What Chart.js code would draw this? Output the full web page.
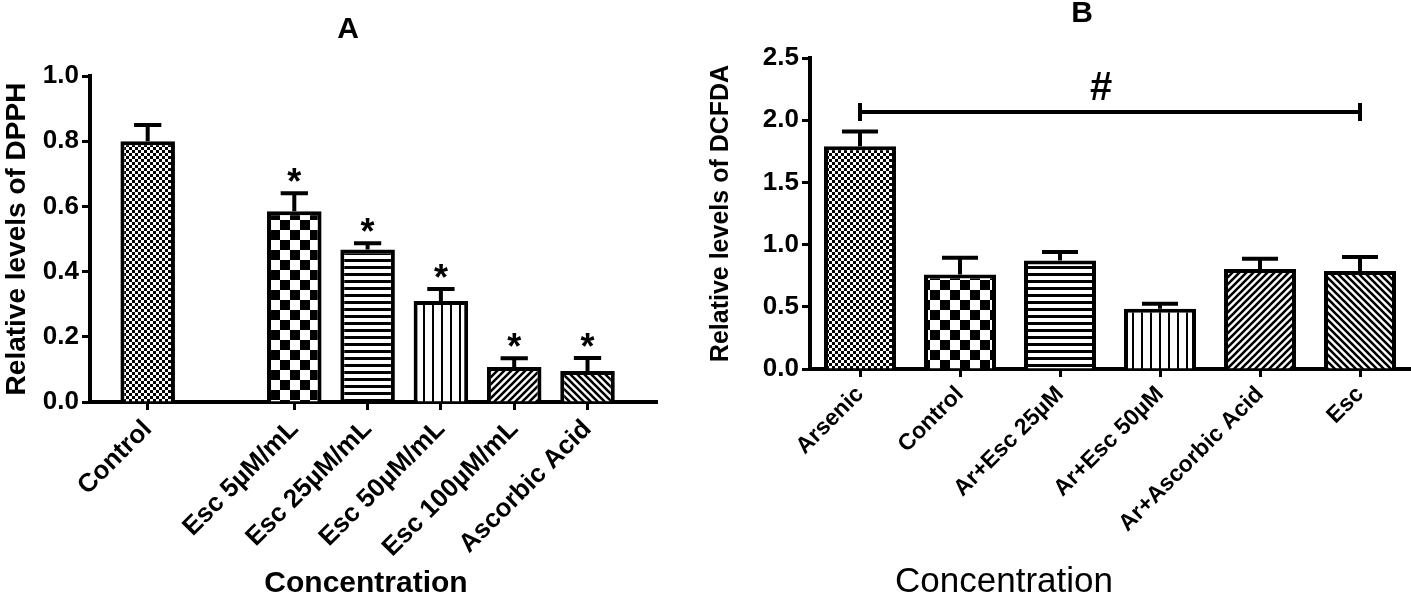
<!DOCTYPE html>
<html>
<head>
<meta charset="utf-8">
<script src="https://cdn.jsdelivr.net/npm/chart.js@4.4.0/dist/chart.umd.min.js"></script>
<style>
  html, body { margin: 0; padding: 0; background: #fff; }
  #boxA { position: absolute; left: 0; top: 0; }
  #boxB { position: absolute; left: 700px; top: 0; }
</style>
</head>
<body>
<div id="boxA"><canvas id="chartA" width="700" height="594"></canvas></div>
<div id="boxB"><canvas id="chartB" width="711" height="594"></canvas></div>
<script>
// Panel A - DPPH (empty slot after Control keeps it set apart)
const categoriesA = ['Control', '', 'Esc 5µM/mL', 'Esc 25µM/mL', 'Esc 50µM/mL', 'Esc 100µM/mL', 'Ascorbic Acid'];
const valuesA = [0.80, null, 0.585, 0.468, 0.31, 0.107, 0.095];
const errorsA = [0.05, null, 0.055, 0.019, 0.037, 0.027, 0.04];
const marksA = ['', '', '*', '*', '*', '*', '*'];
const yTicksA = [0, 0.2, 0.4, 0.6, 0.8, 1.0];

// Panel B - DCFDA
const categoriesB = ['Arsenic', 'Control', 'Ar+Esc 25µM', 'Ar+Esc 50µM', 'Ar+Ascorbic Acid', 'Esc'];
const valuesB = [1.79, 0.76, 0.873, 0.484, 0.803, 0.787];
const errorsB = [0.12, 0.135, 0.067, 0.04, 0.084, 0.113];
const yTicksB = [0, 0.5, 1.0, 1.5, 2.0, 2.5];
const bracketB = ['Arsenic', 'Esc'];
const bracketLevelB = 2.065;
const bracketMarkB = '#';

const FONT = "'Liberation Sans', Arial, sans-serif";
Chart.defaults.font.family = FONT;
Chart.defaults.color = '#000';

function makePattern(kind) {
  const c = document.createElement('canvas');
  const g = c.getContext('2d');
  const s = { fine: 6, big: 20, hlines: 7, vlines: 9, up: 7, down: 7 }[kind];
  c.width = c.height = s;
  g.fillStyle = '#fff';
  g.fillRect(0, 0, s, s);
  g.fillStyle = '#000';
  g.strokeStyle = '#000';
  if (kind === 'fine' || kind === 'big') {
    g.fillRect(0, 0, s / 2, s / 2);
    g.fillRect(s / 2, s / 2, s / 2, s / 2);
  } else if (kind === 'hlines') {
    g.fillRect(0, 0, s, 3);
  } else if (kind === 'vlines') {
    g.fillRect(0, 0, 2, s);
  } else {
    g.lineWidth = 2.6;
    g.beginPath();
    if (kind === 'up') {
      g.moveTo(-1, s + 1); g.lineTo(s + 1, -1);
      g.moveTo(-1, 1); g.lineTo(1, -1);
      g.moveTo(s - 1, s + 1); g.lineTo(s + 1, s - 1);
    } else {
      g.moveTo(-1, -1); g.lineTo(s + 1, s + 1);
      g.moveTo(s - 1, -1); g.lineTo(s + 1, 1);
      g.moveTo(-1, s - 1); g.lineTo(1, s + 1);
    }
    g.stroke();
  }
  return g.createPattern(c, 'repeat');
}

const fillsA = [makePattern('fine'), null, makePattern('big'), makePattern('hlines'),
                makePattern('vlines'), makePattern('up'), makePattern('down')];
const fillsB = [makePattern('fine'), makePattern('big'), makePattern('hlines'),
                makePattern('vlines'), makePattern('up'), makePattern('down')];

// error bars (upper only) and significance marks
const errorBars = {
  id: 'errorBars',
  afterDatasetsDraw(chart, args, opts) {
    const ctx = chart.ctx;
    const y = chart.scales.y;
    const bars = chart.getDatasetMeta(0).data;
    ctx.save();
    ctx.strokeStyle = '#000';
    ctx.fillStyle = '#000';
    ctx.lineWidth = 4;
    opts.values.forEach((v, i) => {
      if (v == null) return;
      const bar = bars[i];
      const top = y.getPixelForValue(v + opts.errors[i]);
      const half = bar.width / 4;
      ctx.beginPath();
      ctx.moveTo(bar.x, bar.y);
      ctx.lineTo(bar.x, top);
      ctx.moveTo(bar.x - half, top);
      ctx.lineTo(bar.x + half, top);
      ctx.stroke();
      if (opts.marks && opts.marks[i]) {
        ctx.font = 'bold 36px ' + FONT;
        ctx.textAlign = 'center';
        ctx.textBaseline = 'alphabetic';
        ctx.fillText(opts.marks[i], bar.x, top + 1);
      }
    });
    ctx.restore();
  }
};

const bracket = {
  id: 'bracket',
  afterDatasetsDraw(chart, args, opts) {
    if (!opts.ends) return;
    const ctx = chart.ctx;
    const x = chart.scales.x, y = chart.scales.y;
    const labels = chart.data.labels;
    const x1 = x.getPixelForValue(labels.indexOf(opts.ends[0]));
    const x2 = x.getPixelForValue(labels.indexOf(opts.ends[1]));
    const yy = y.getPixelForValue(opts.level);
    ctx.save();
    ctx.strokeStyle = '#000';
    ctx.lineWidth = 4;
    ctx.beginPath();
    ctx.moveTo(x1, yy); ctx.lineTo(x2, yy);
    ctx.moveTo(x1, yy - 9); ctx.lineTo(x1, yy + 9);
    ctx.moveTo(x2, yy - 9); ctx.lineTo(x2, yy + 9);
    ctx.stroke();
    ctx.fillStyle = '#000';
    ctx.font = 'bold 40px ' + FONT;
    ctx.textAlign = 'center';
    ctx.textBaseline = 'alphabetic';
    ctx.fillText(opts.mark, (x1 + x2) / 2 - 9, yy - 12);
    ctx.restore();
  }
};

const panelText = {
  id: 'panelText',
  afterDraw(chart, args, opts) {
    const ctx = chart.ctx;
    ctx.save();
    ctx.fillStyle = '#000';
    ctx.textAlign = 'center';
    ctx.textBaseline = 'alphabetic';
    (opts.items || []).forEach(t => {
      ctx.font = t.font;
      ctx.fillText(t.text, t.x, t.y);
    });
    ctx.restore();
  }
};

const axisLine = { display: true, width: 4, color: '#000' };
const tickMarks = { display: true, drawOnChartArea: false, drawTicks: true, tickLength: 8, tickWidth: 3, color: '#000' };

new Chart(document.getElementById('chartA'), {
  type: 'bar',
  data: {
    labels: categoriesA,
    datasets: [{
      data: categoriesA.map((c, i) => ({ x: i, y: valuesA[i] })),
      backgroundColor: fillsA,
      borderColor: '#000',
      borderWidth: 4,
      barPercentage: 0.93
    }]
  },
  options: {
    responsive: false,
    animation: false,
    devicePixelRatio: 1,
    layout: { padding: { left: 0, top: 76, right: 43, bottom: 0 } },
    plugins: {
      legend: { display: false },
      tooltip: { enabled: false },
      errorBars: { values: valuesA, errors: errorsA, marks: marksA },
      panelText: {
        items: [
          { text: 'A', x: 348, y: 38, font: 'bold 30px ' + FONT },
          { text: 'Concentration', x: 366, y: 592, font: 'bold 30px ' + FONT }
        ]
      }
    },
    scales: {
      x: {
        type: 'linear',
        offset: false,
        min: -0.787,
        max: 6.948,
        border: axisLine,
        grid: { ...tickMarks, offset: false },
        afterBuildTicks: s => {
          s.ticks = categoriesA.map((c, i) => c ? { value: i } : null).filter(t => t);
        },
        afterFit: s => { s.height = 192; },
        ticks: {
          autoSkip: false,
          minRotation: 45,
          maxRotation: 45,
          padding: 4,
          font: { size: 26, weight: 'bold' },
          callback: v => categoriesA[v]
        }
      },
      y: {
        min: 0,
        max: 1.0,
        border: axisLine,
        grid: tickMarks,
        afterBuildTicks: s => { s.ticks = yTicksA.map(v => ({ value: v })); },
        afterFit: s => { s.width = 90; },
        ticks: {
          padding: 3,
          font: { size: 26, weight: 'bold' },
          callback: v => v.toFixed(1)
        },
        title: { display: true, text: 'Relative levels of DPPH', padding: 0, font: { size: 28, weight: 'bold' } }
      }
    }
  },
  plugins: [errorBars, panelText]
});

new Chart(document.getElementById('chartB'), {
  type: 'bar',
  data: {
    labels: categoriesB,
    datasets: [{
      data: valuesB,
      backgroundColor: fillsB,
      borderColor: '#000',
      borderWidth: 4
    }]
  },
  options: {
    responsive: false,
    animation: false,
    devicePixelRatio: 1,
    layout: { padding: { left: 6, top: 58, right: 1, bottom: 0 } },
    plugins: {
      legend: { display: false },
      tooltip: { enabled: false },
      errorBars: { values: valuesB, errors: errorsB },
      bracket: { ends: bracketB, level: bracketLevelB, mark: bracketMarkB },
      panelText: {
        items: [
          { text: 'B', x: 382, y: 22, font: 'bold 30px ' + FONT },
          { text: 'Concentration', x: 304, y: 592, font: '35px ' + FONT }
        ]
      }
    },
    scales: {
      x: {
        offset: true,
        border: axisLine,
        grid: { ...tickMarks, offset: false },
        afterFit: s => { s.height = 225; },
        ticks: {
          autoSkip: false,
          minRotation: 45,
          maxRotation: 45,
          padding: 4,
          font: { size: 23, weight: 'bold' }
        }
      },
      y: {
        min: 0,
        max: 2.5,
        border: axisLine,
        grid: tickMarks,
        afterBuildTicks: s => { s.ticks = yTicksB.map(v => ({ value: v })); },
        afterFit: s => { s.width = 104; },
        ticks: {
          padding: 3,
          font: { size: 26, weight: 'bold' },
          callback: v => v.toFixed(1)
        },
        title: { display: true, text: 'Relative levels of DCFDA', padding: 0, font: { size: 25, weight: 'bold' } }
      }
    }
  },
  plugins: [errorBars, bracket, panelText]
});
</script>
</body>
</html>
